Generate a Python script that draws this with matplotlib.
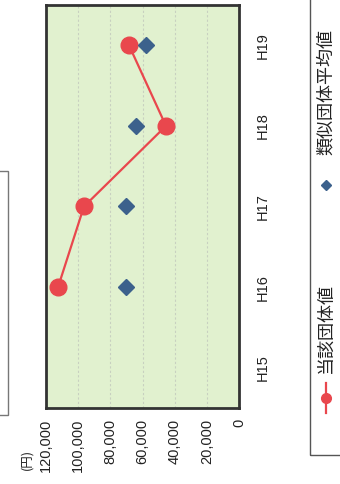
import matplotlib
matplotlib.use("Agg")
import matplotlib.pyplot as plt
from matplotlib.patches import Rectangle
from matplotlib.lines import Line2D
import numpy as np

plt.rcParams["font.family"] = ["Liberation Sans", "Noto Sans CJK JP", "DejaVu Sans"]

categories = ["H15", "H16", "H17", "H18", "H19"]
own_values = [np.nan, 112500, 96400, 45400, 68400]
peer_values = [np.nan, 70300, 70300, 64000, 57800]
value_ticks = [0, 20000, 40000, 60000, 80000, 100000, 120000]
own_label = "当該団体値"
peer_label = "類似団体平均値"
unit_label = "(円)"

W, H = 340, 484
RED = "#e9474d"
BLUE = "#3c618c"
CJK = ["Noto Sans CJK JP", "DejaVu Sans"]


def fx(px):
    return px / W


def fy(py):
    return 1 - py / H


fig = plt.figure(figsize=(W / 100, H / 100), dpi=100)
ax = fig.add_axes([fx(46), fy(408), (239 - 46) / W, (408 - 5) / H])
ax.set_facecolor("#e1f1cf")

pos = np.arange(len(categories)) + 0.5
ax.plot(own_values, pos, color=RED, lw=1.6, marker="o", ms=12,
        mec=RED, mfc=RED, zorder=3)
ax.plot(peer_values, pos, ls="none", marker="D", ms=8,
        color=BLUE, zorder=3)

ax.set_xlim(120000, 0)
ax.set_ylim(0, len(categories))
ax.set_xticks(value_ticks)
ax.set_xticklabels([f"{v:,}" for v in value_ticks], rotation=90,
                   fontsize=10.5, color="#222222")
ax.yaxis.tick_right()
ax.set_yticks(pos)
ax.set_yticklabels(categories, rotation=90, va="center", fontsize=10.5,
                   color="#222222")
ax.tick_params(axis="x", length=0, pad=8)
ax.tick_params(axis="y", length=0, pad=12)
ax.grid(axis="x", color="#c8d0c0", lw=0.8, ls=(0, (2, 2)))
ax.set_axisbelow(True)
for s in ax.spines.values():
    s.set_color("#333333")
    s.set_linewidth(2)

fig.text(fx(27), fy(460), unit_label, rotation=90, ha="center", va="center",
         fontsize=9, color="#222222", family=CJK)

# legend box on the right edge, drawn rotated
fig.patches.append(Rectangle((fx(310), fy(455)), fx(40), fy(-10) - fy(455),
                             transform=fig.transFigure, fill=False,
                             ec="#555555", lw=1))
fig.text(fx(326), fy(92), peer_label, rotation=90, ha="center", va="center",
         fontsize=13, color="#222222", family=CJK)
fig.text(fx(326), fy(328), own_label, rotation=90, ha="center", va="center",
         fontsize=13, color="#222222", family=CJK)
fig.add_artist(Line2D([fx(326), fx(326)], [fy(413), fy(383)],
                      transform=fig.transFigure, color=RED, lw=1.6))
fig.add_artist(Line2D([fx(326)], [fy(398)], transform=fig.transFigure,
                      marker="o", ms=7, color=RED))
fig.add_artist(Line2D([fx(326)], [fy(185)], transform=fig.transFigure,
                      marker="D", ms=5, color=BLUE))

# cropped title box at the left edge
fig.patches.append(Rectangle((fx(-10), fy(415)), fx(18), fy(171) - fy(415),
                             transform=fig.transFigure, fill=False,
                             ec="#777777", lw=1))

fig.savefig("out.png", dpi=100, facecolor="white")
